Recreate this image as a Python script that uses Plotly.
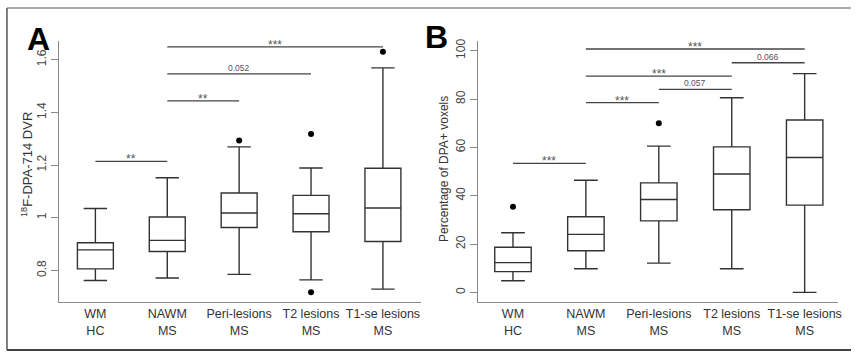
import plotly.graph_objects as go

# ---------------- data ----------------
categories = ["WM<br>HC", "NAWM<br>MS", "Peri-lesions<br>MS", "T2 lesions<br>MS", "T1-se lesions<br>MS"]
positions = [1, 2, 3, 4, 5]

# Panel A: 18F-DPA-714 DVR
a_low = [0.762, 0.771, 0.785, 0.764, 0.729]
a_q1 = [0.806, 0.872, 0.963, 0.947, 0.910]
a_med = [0.878, 0.914, 1.018, 1.015, 1.037]
a_q3 = [0.905, 1.003, 1.094, 1.085, 1.188]
a_high = [1.035, 1.152, 1.269, 1.189, 1.569]
a_out_x = [3, 4, 4, 5]
a_out_y = [1.293, 1.318, 0.717, 1.630]
a_br_from = [1, 2, 2, 2]
a_br_to = [2, 3, 4, 5]
a_br_h = [1.214, 1.444, 1.546, 1.649]
a_br_lab = ["**", "**", "0.052", "***"]

# Panel B: Percentage of DPA+ voxels
b_low = [4.8, 9.8, 12.1, 9.8, 0.0]
b_q1 = [8.6, 17.2, 29.6, 34.2, 36.1]
b_med = [12.3, 24.0, 38.4, 49.0, 55.8]
b_q3 = [18.7, 31.3, 45.3, 60.2, 71.3]
b_high = [24.7, 46.4, 60.5, 80.5, 90.5]
b_out_x = [1, 3]
b_out_y = [35.4, 70.0]
b_br_from = [1, 2, 3, 2, 4, 2]
b_br_to = [2, 3, 4, 4, 5, 5]
b_br_h = [53.4, 78.5, 84.0, 89.5, 95.0, 100.7]
b_br_lab = ["***", "***", "0.057", "***", "0.066", "***"]

a_ticks = [0.8, 1.0, 1.2, 1.4, 1.6]
a_ticktext = ["0.8", "1", "1.2", "1.4", "1.6"]
b_ticks = [0, 20, 40, 60, 80, 100]

# ---------------- figure ----------------
W, H = 855, 352
FONT = "Liberation Sans, Arial, sans-serif"
BOXC = "#333333"
AXC = "#8a8a8a"

fig = go.Figure()

def add_panel(xa, ya, low, q1, med, q3, high, ox, oy, bf, bt, bh, bl):
    for i, p in enumerate(positions):
        fig.add_trace(go.Box(
            x=[p], q1=[q1[i]], median=[med[i]], q3=[q3[i]],
            lowerfence=[low[i]], upperfence=[high[i]],
            width=0.5, whiskerwidth=0.65, fillcolor="white",
            line=dict(color=BOXC, width=1.4), boxpoints=False,
            hoverinfo="skip", showlegend=False, xaxis=xa, yaxis=ya))
    fig.add_trace(go.Scatter(
        x=ox, y=oy, mode="markers", marker=dict(color="black", size=6),
        showlegend=False, hoverinfo="skip", xaxis=xa, yaxis=ya))
    for f, t, h, lab in zip(bf, bt, bh, bl):
        fig.add_trace(go.Scatter(
            x=[f, t], y=[h, h], mode="lines",
            line=dict(color="#444444", width=1.3),
            showlegend=False, hoverinfo="skip", xaxis=xa, yaxis=ya))
        star = lab.startswith("*")
        fig.add_annotation(
            x=(f + t) / 2, y=h, xref=xa, yref=ya.replace("axis", ""),
            text=lab, showarrow=False, xanchor="center",
            yanchor="middle" if star else "bottom",
            yshift=2 if star else -1,
            font=dict(family=FONT, size=12 if star else 8.5, color="#555555"))

add_panel("x", "y", a_low, a_q1, a_med, a_q3, a_high, a_out_x, a_out_y,
          a_br_from, a_br_to, a_br_h, a_br_lab)
add_panel("x2", "y2", b_low, b_q1, b_med, b_q3, b_high, b_out_x, b_out_y,
          b_br_from, b_br_to, b_br_h, b_br_lab)

ydom = [(H - 302) / H, (H - 39) / H]
xcommon = dict(showgrid=False, zeroline=False, showline=True, linecolor=AXC,
               linewidth=1, ticks="", tickvals=positions, ticktext=categories,
               tickfont=dict(family=FONT, size=12.5, color="#333333"))
ycommon = dict(showgrid=False, zeroline=False, showline=True, linecolor=AXC,
               linewidth=1, ticks="outside", ticklen=7, tickcolor=AXC,
               tickangle=-90,
               tickfont=dict(family=FONT, size=12, color="#444444"))

fig.update_layout(
    width=W, height=H, margin=dict(l=0, r=0, t=0, b=0),
    paper_bgcolor="white", plot_bgcolor="white",
    xaxis=dict(domain=[59 / W, 423 / W], range=[0.49, 5.53], **xcommon),
    xaxis2=dict(domain=[480 / W, 842 / W], range=[0.517, 5.458], anchor="y2", **xcommon),
    yaxis=dict(domain=ydom, range=[0.679, 1.672], tickvals=a_ticks, ticktext=a_ticktext,
               anchor="x", **ycommon),
    yaxis2=dict(domain=ydom, range=[-4.1, 104.1], tickvals=b_ticks, anchor="x2", **ycommon),
)

# axis titles (rotated) and panel letters
fig.add_annotation(x=27 / W, y=(H - 163) / H, xref="paper", yref="paper",
                   xanchor="center", yanchor="middle",
                   text="<sup>18</sup>F-DPA-714 DVR", textangle=-90, showarrow=False,
                   font=dict(family=FONT, size=13, color="#333333"))
fig.add_annotation(x=446 / W, y=(H - 168) / H, xref="paper", yref="paper",
                   xanchor="center", yanchor="middle",
                   text="Percentage of DPA+ voxels", textangle=-90, showarrow=False,
                   font=dict(family=FONT, size=12, color="#333333"))
fig.add_annotation(x=39 / W, y=(H - 37) / H, xref="paper", yref="paper",
                   xanchor="center", yanchor="middle",
                   text="<b>A</b>", showarrow=False,
                   font=dict(family=FONT, size=32, color="black"))
fig.add_annotation(x=439 / W, y=(H - 35) / H, xref="paper", yref="paper",
                   xanchor="center", yanchor="middle",
                   text="<b>B</b>", showarrow=False,
                   font=dict(family=FONT, size=32, color="black"))

# outer frame
fig.add_shape(type="line", xref="paper", yref="paper", x0=7 / W, x1=1, y0=(H - 6) / H, y1=(H - 6) / H,
              line=dict(color="#aaaaaa", width=2))
fig.add_shape(type="line", xref="paper", yref="paper", x0=7 / W, x1=7 / W, y0=(H - 6) / H, y1=(H - 350) / H,
              line=dict(color="#555555", width=1.5))
fig.add_shape(type="line", xref="paper", yref="paper", x0=7 / W, x1=1, y0=(H - 350) / H, y1=(H - 350) / H,
              line=dict(color="#444444", width=2))

fig.write_html(
    "out.html",
    config={"displayModeBar": False},
    post_script="document.body.style.margin='0';document.body.style.overflow='hidden';",
)
